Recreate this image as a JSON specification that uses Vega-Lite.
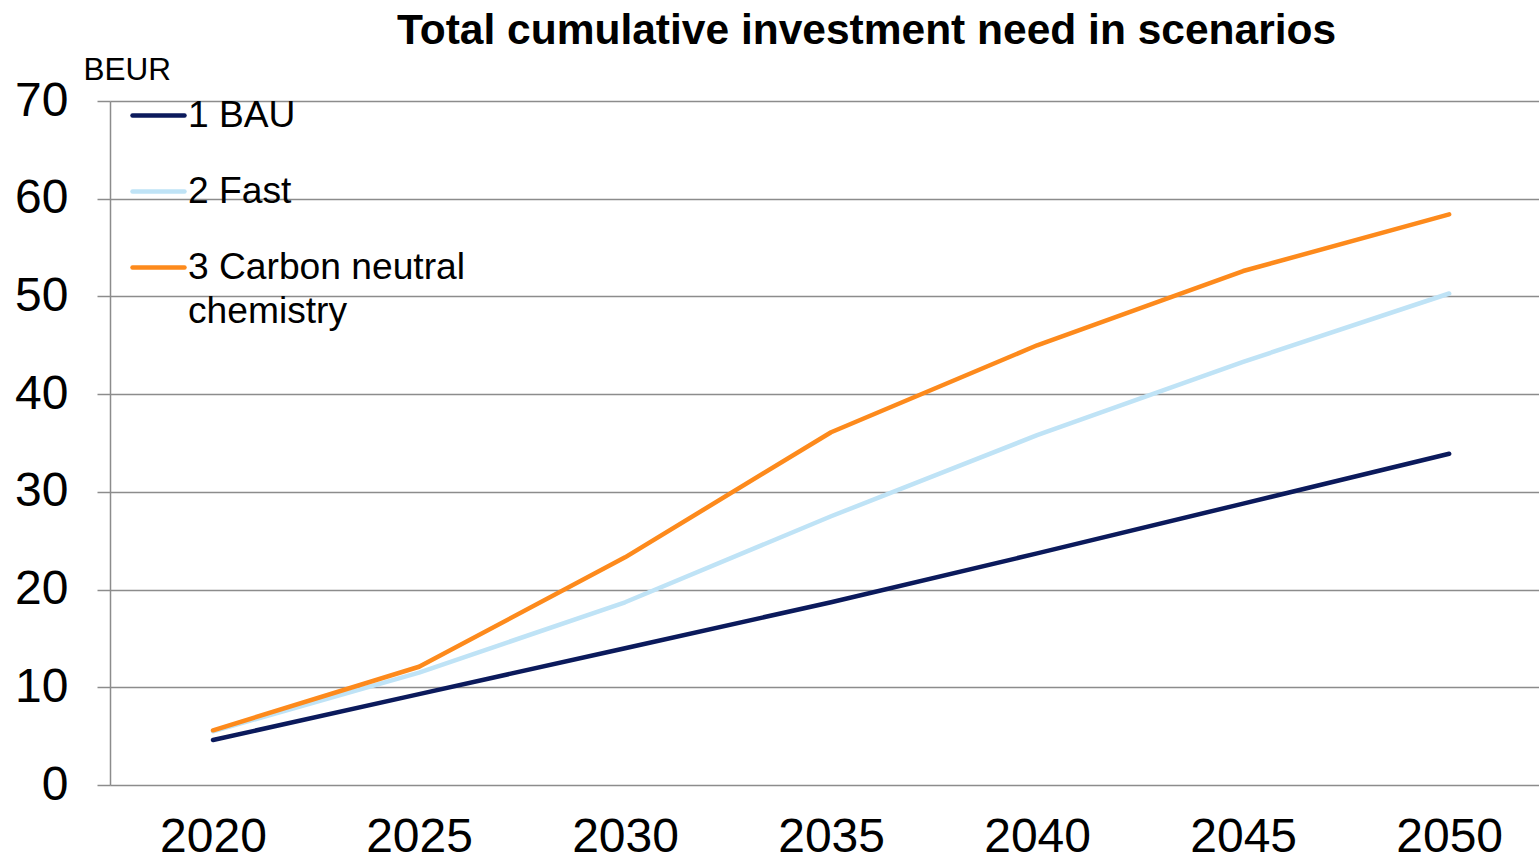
{
  "$schema": "https://vega.github.io/schema/vega-lite/v6.json",
  "autosize": {"type": "none"},
  "padding": {"left": 110, "top": 101, "right": 0, "bottom": 70},
  "width": 1429,
  "height": 684,
  "background": "white",
  "title": {
    "text": "Total cumulative investment need in scenarios",
    "font": "Liberation Sans",
    "fontSize": 42.5,
    "fontWeight": "bold",
    "color": "#000000",
    "anchor": "middle",
    "frame": "group",
    "dx": 42,
    "offset": 2
  },
  "config": {
    "view": {"stroke": null},
    "font": "Liberation Sans"
  },
  "data": {
    "values": [
      {"year": 2020, "scenario": "1 BAU", "value": 4.6},
      {"year": 2025, "scenario": "1 BAU", "value": 9.3},
      {"year": 2030, "scenario": "1 BAU", "value": 14.0},
      {"year": 2035, "scenario": "1 BAU", "value": 18.7},
      {"year": 2040, "scenario": "1 BAU", "value": 23.7},
      {"year": 2045, "scenario": "1 BAU", "value": 28.8},
      {"year": 2050, "scenario": "1 BAU", "value": 33.9},
      {"year": 2020, "scenario": "2 Fast", "value": 5.5},
      {"year": 2025, "scenario": "2 Fast", "value": 11.5},
      {"year": 2030, "scenario": "2 Fast", "value": 18.7},
      {"year": 2035, "scenario": "2 Fast", "value": 27.5},
      {"year": 2040, "scenario": "2 Fast", "value": 35.8},
      {"year": 2045, "scenario": "2 Fast", "value": 43.3},
      {"year": 2050, "scenario": "2 Fast", "value": 50.3},
      {"year": 2020, "scenario": "3 Carbon neutral chemistry", "value": 5.6},
      {"year": 2025, "scenario": "3 Carbon neutral chemistry", "value": 12.1},
      {"year": 2030, "scenario": "3 Carbon neutral chemistry", "value": 23.3},
      {"year": 2035, "scenario": "3 Carbon neutral chemistry", "value": 36.1},
      {"year": 2040, "scenario": "3 Carbon neutral chemistry", "value": 45.0},
      {"year": 2045, "scenario": "3 Carbon neutral chemistry", "value": 52.6},
      {"year": 2050, "scenario": "3 Carbon neutral chemistry", "value": 58.4}
    ]
  },
  "mark": {"type": "line", "strokeWidth": 4.5, "strokeCap": "round", "strokeJoin": "round"},
  "encoding": {
    "x": {
      "field": "year",
      "type": "quantitative",
      "scale": {"domain": [2017.5, 2052.18], "nice": false, "zero": false},
      "axis": {
        "title": null,
        "values": [2020, 2025, 2030, 2035, 2040, 2045, 2050],
        "format": "d",
        "labelAngle": 0,
        "labelFontSize": 48,
        "labelColor": "#000000",
        "labelPadding": 28,
        "labelBaseline": "top",
        "labelFlush": false,
        "labelOverlap": false,
        "ticks": false,
        "domain": false,
        "grid": false
      }
    },
    "y": {
      "field": "value",
      "type": "quantitative",
      "scale": {"domain": [0, 70], "nice": false},
      "axis": {
        "values": [0, 10, 20, 30, 40, 50, 60, 70],
        "title": "BEUR",
        "titleAngle": 0,
        "titleAlign": "left",
        "titleBaseline": "alphabetic",
        "titleX": -27,
        "titleY": -22,
        "titleFontSize": 31.5,
        "titleFontWeight": "normal",
        "titleColor": "#000000",
        "labelFontSize": 48,
        "labelColor": "#000000",
        "labelPadding": 29,
        "tickSize": 13,
        "tickColor": "#8c8c8c",
        "tickWidth": 1.5,
        "domainColor": "#8c8c8c",
        "domainWidth": 1.5,
        "grid": true,
        "gridColor": "#8c8c8c",
        "gridWidth": 1.5,
        "gridOpacity": 1
      }
    },
    "color": {
      "field": "scenario",
      "type": "nominal",
      "scale": {
        "domain": ["1 BAU", "2 Fast", "3 Carbon neutral chemistry"],
        "range": ["#0b1a5c", "#bfe3f6", "#fd8a1c"]
      },
      "legend": {
        "title": null,
        "orient": "none",
        "legendX": 20,
        "legendY": -14,
        "padding": 0,
        "symbolType": "stroke",
        "symbolSize": 2704,
        "symbolStrokeWidth": 4.5,
        "labelFontSize": 37.2,
        "labelColor": "#000000",
        "labelOffset": 1,
        "labelLimit": 0,
        "rowPadding": 29,
        "labelExpr": "datum.label == '3 Carbon neutral chemistry' ? ['3 Carbon neutral', 'chemistry'] : datum.label",
        "encode": {
          "labels": {"update": {"lineHeight": {"value": 44}}},
          "symbols": {"update": {"strokeCap": {"value": "round"}}}
        }
      }
    }
  }
}
